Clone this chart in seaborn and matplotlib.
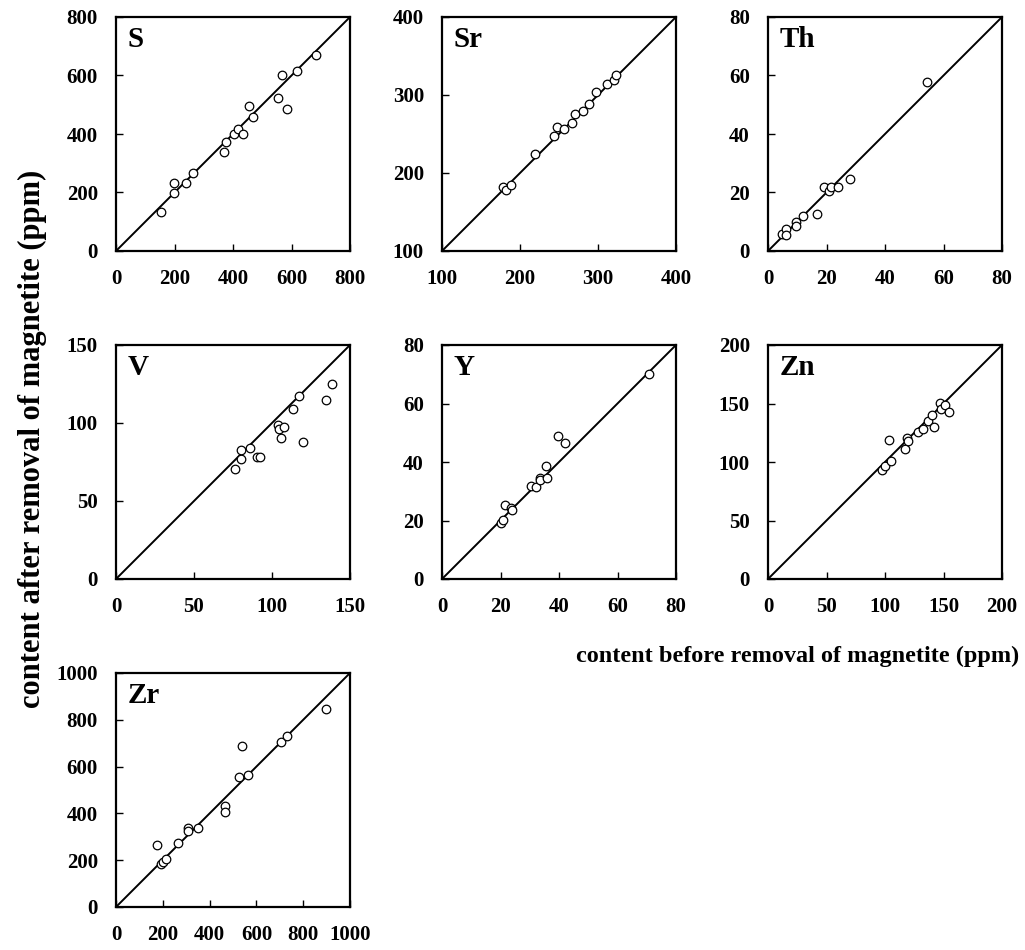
import numpy as np
import pandas as pd
import seaborn as sns
import matplotlib.pyplot as plt

sns.set_theme(style="ticks")
plt.rcParams['font.family'] = ['Liberation Serif', 'DejaVu Serif']
plt.rcParams['font.weight'] = 'bold'
plt.rcParams['text.color'] = 'black'
plt.rcParams['xtick.color'] = 'black'
plt.rcParams['ytick.color'] = 'black'

# element contents (ppm): before / after removal of magnetite
s_before = [154, 197, 197, 239, 262, 368, 375, 403, 418, 433, 454, 468, 554, 567, 583, 619, 684]
s_after = [132, 197, 232, 232, 267, 339, 374, 400, 418, 400, 495, 459, 524, 602, 487, 615, 671]

sr_before = [178, 182, 188, 219, 243, 248, 257, 267, 270, 281, 289, 297, 312, 321, 323]
sr_after = [182, 178, 184, 224, 248, 259, 256, 264, 275, 280, 288, 304, 314, 319, 325]

th_before = [4.7, 6.3, 6.3, 9.7, 9.7, 11.8, 16.7, 19.0, 21.0, 21.7, 24.0, 28.2, 54.5]
th_after = [5.7, 7.4, 5.6, 10.0, 8.4, 11.9, 12.7, 21.9, 20.4, 21.9, 21.9, 24.7, 57.9]

v_before = [76.5, 80.3, 80.3, 85.7, 90.3, 92.4, 104.0, 104.4, 105.5, 108.0, 113.2, 117.6, 119.7, 134.7, 138.7]
v_after = [70.6, 77.0, 82.8, 84.0, 78.5, 78.5, 98.9, 96.2, 90.4, 97.2, 108.9, 117.0, 87.9, 114.5, 124.9]

y_before = [20.2, 21.0, 21.5, 23.5, 23.8, 30.5, 32.2, 33.4, 33.5, 35.9, 35.7, 39.8, 42.0, 70.8]
y_after = [19.3, 20.1, 25.4, 24.2, 23.7, 31.7, 31.5, 34.5, 33.8, 34.7, 38.7, 48.8, 46.4, 70.0]

zn_before = [97.6, 99.6, 104.9, 103.2, 117.3, 119.2, 119.5, 127.9, 132.7, 136.9, 140.3, 141.9, 146.7, 148.1, 150.9, 154.3]
zn_after = [93.3, 96.7, 100.7, 118.6, 111.2, 120.1, 118.1, 125.5, 128.3, 135.1, 140.0, 130.3, 150.5, 145.1, 148.8, 143.1]

zr_before = [177, 194, 201, 212, 264, 306, 308, 352, 466, 466, 526, 537, 562, 703, 731, 898]
zr_after = [265, 184, 194, 203, 274, 336, 326, 336, 433, 407, 556, 688, 565, 706, 732, 847]

elements = ['S', 'Sr', 'Th', 'V', 'Y', 'Zn', 'Zr']
befores = [s_before, sr_before, th_before, v_before, y_before, zn_before, zr_before]
afters = [s_after, sr_after, th_after, v_after, y_after, zn_after, zr_after]
limits = [(0, 800, 200), (100, 400, 100), (0, 80, 20), (0, 150, 50),
          (0, 80, 20), (0, 200, 50), (0, 1000, 200)]

W, H = 1025, 950
fig = plt.figure(figsize=(W / 100, H / 100), dpi=100)

col_left = [116, 442, 768]
row_top = [17, 345, 673]
size = 234

for i, el in enumerate(elements):
    r, c = divmod(i, 3)
    ax = fig.add_axes([col_left[c] / W, 1 - (row_top[r] + size) / H, size / W, size / H])
    lo, hi, step = limits[i]
    df = pd.DataFrame({'before': befores[i], 'after': afters[i]})
    # 1:1 line
    ax.plot([lo, hi], [lo, hi], color='black', lw=1.4, zorder=1)
    sns.scatterplot(data=df, x='before', y='after', ax=ax, s=38, marker='o',
                    facecolor='white', edgecolor='black', linewidth=0.9, zorder=2)
    ax.set_xlim(lo, hi)
    ax.set_ylim(lo, hi)
    ticks = np.arange(lo, hi + step / 2, step)
    ax.set_xticks(ticks)
    ax.set_yticks(ticks)
    ax.set_xlabel('')
    ax.set_ylabel('')
    ax.tick_params(direction='in', length=5, width=1, labelsize=15, pad=13,
                   colors='black')
    for lab in ax.get_xticklabels() + ax.get_yticklabels():
        lab.set_fontweight('bold')
    for sp in ax.spines.values():
        sp.set_visible(True)
        sp.set_linewidth(1.6)
        sp.set_color('black')
    ax.text(0.05, 0.96, el, transform=ax.transAxes, ha='left', va='top',
            fontsize=21, fontweight='bold', color='black')

fig.text(798 / W, 1 - 656 / H, 'content before removal of magnetite (ppm)',
         ha='center', va='center', fontsize=17.5, fontweight='bold', color='black')
fig.text(32 / W, 1 - 439 / H, 'content after removal of magnetite (ppm)',
         ha='center', va='center', rotation=90, fontsize=22, fontweight='bold',
         color='black')

fig.savefig('out.png', dpi=100, facecolor='white')
